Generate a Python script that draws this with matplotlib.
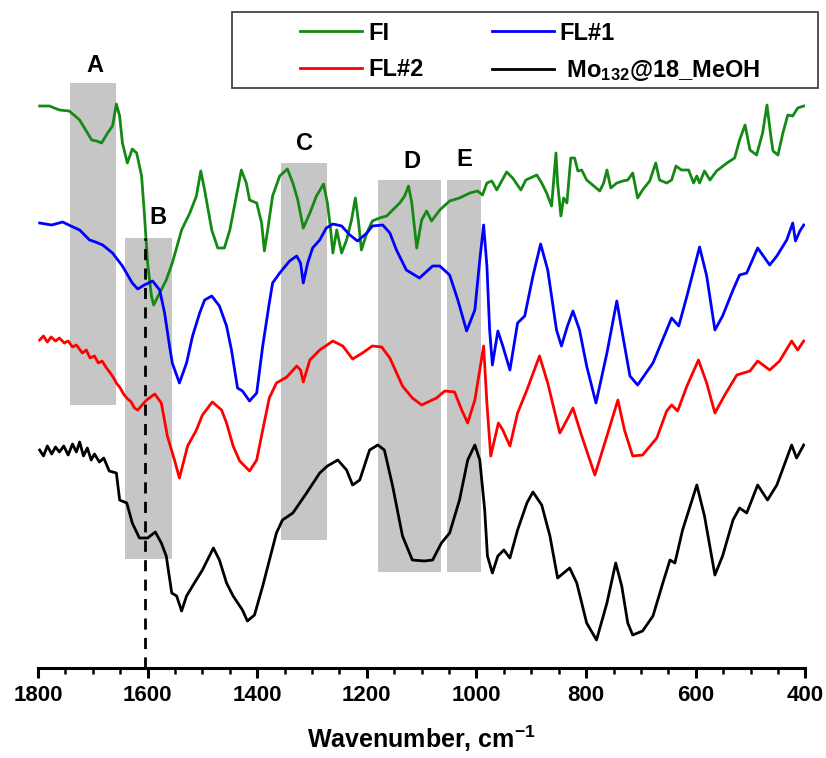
import matplotlib
matplotlib.use("Agg")
import matplotlib.pyplot as plt
from matplotlib.patches import Rectangle

plt.rcParams['font.family'] = ['Liberation Sans', 'DejaVu Sans']
plt.rcParams['font.weight'] = 'bold'
plt.rcParams['mathtext.fontset'] = 'custom'
plt.rcParams['mathtext.rm'] = 'Liberation Sans:bold'
plt.rcParams['mathtext.default'] = 'rm'

# spectra: wavenumber (cm-1) and offset transmittance (arb. units)
fi_w = [1797, 1779, 1761, 1743, 1724, 1702, 1693, 1684, 1673, 1664, 1657, 1651, 1646, 1637,
        1628, 1620, 1611, 1606, 1600, 1593, 1589, 1578, 1566, 1555, 1538, 1523, 1511, 1503,
        1496, 1483, 1472, 1460, 1450, 1438, 1429, 1420, 1414, 1401, 1392, 1387, 1381, 1372,
        1359, 1345, 1335, 1326, 1316, 1304, 1292, 1279, 1272, 1266, 1262, 1255, 1246, 1237,
        1228, 1221, 1215, 1210, 1200, 1190, 1177, 1164, 1153, 1140, 1131, 1124, 1118, 1109,
        1100, 1091, 1082, 1067, 1049, 1031, 1012, 998, 989, 981, 972, 963, 945, 934, 919, 910,
        890, 881, 872, 863, 855, 852, 846, 841, 835, 828, 821, 815, 808, 799, 788, 775, 768,
        762, 755, 744, 733, 724, 715, 706, 697, 684, 673, 666, 653, 644, 636, 626, 613, 604,
        598, 593, 584, 574, 562, 543, 529, 520, 510, 501, 489, 478, 470, 463, 459, 450, 441,
        432, 423, 414, 403]
fi_t = [562, 562, 558, 557, 548, 528, 527, 525, 535, 542, 564, 552, 525, 505,
        519, 515, 492, 455, 405, 372, 363, 375, 388, 405, 438, 455, 472, 497,
        478, 438, 420, 420, 438, 472, 498, 485, 468, 465, 445, 417, 438, 472,
        492, 499, 485, 468, 440, 455, 472, 484, 465, 438, 415, 438, 415, 428,
        448, 470, 445, 418, 435, 447, 450, 452, 458, 465, 472, 482, 465, 420,
        448, 457, 447, 458, 467, 470, 475, 477, 473, 485, 487, 478, 496, 490, 478, 488,
        493, 485, 475, 462, 515, 485, 452, 470, 465, 510, 510, 497, 498, 488, 483, 477, 485,
        498, 480, 485, 487, 488, 495, 470, 478, 487, 505, 488, 485, 488, 502, 498, 498, 485,
        492, 485, 497, 488, 497, 505, 510, 528, 543, 518, 513, 535, 563, 532, 517, 513, 535,
        553, 552, 560, 562]

fl1_w = [1797, 1775, 1755, 1740, 1724, 1706, 1695, 1682, 1664, 1646, 1628, 1618, 1606, 1591,
         1578, 1569, 1560,
         1555, 1542, 1529, 1518, 1505, 1496, 1483, 1469, 1456, 1447, 1436, 1427, 1414, 1401,
         1390, 1378, 1372, 1359, 1341, 1328, 1321, 1316, 1308, 1299, 1286, 1274, 1262, 1246,
         1231, 1217, 1200, 1190, 1171, 1158, 1146, 1128, 1104, 1080, 1067, 1049, 1034, 1018,
         1003, 994, 987, 981, 976, 971, 961, 952, 939, 925, 912, 897, 883, 870, 854, 845, 834,
         824, 812, 799, 782, 762, 744, 733, 720, 706, 678, 653, 644, 631, 616, 593, 580, 565,
         551, 532, 520, 507, 487, 465, 452, 434, 423, 418, 410, 403]
fl1_t = [445, 443, 446, 442, 438, 428, 426, 423, 415, 402, 385, 379, 383, 387,
         378, 355, 322,
         305, 285, 305, 332, 355, 368, 372, 362, 342, 318, 280, 277, 267, 275,
         322, 365, 385, 395, 407, 412, 405, 385, 405, 420, 428, 440, 444, 442,
         433, 427, 435, 442, 443, 435, 418, 398, 390, 402, 402, 393, 368, 337,
         358, 408, 443, 402, 338, 303, 337, 322, 298, 345, 352, 392, 424, 398, 338, 322, 342,
         357, 338, 302, 265, 315, 367, 332, 292, 283, 305, 338, 350, 342, 372, 421, 392, 338,
         352, 378, 393, 395, 420, 403, 412, 428, 445, 427, 437, 443]

fl2_w = [1797, 1790, 1783, 1776, 1768, 1761, 1752, 1745, 1737, 1730, 1719, 1712, 1705, 1697,
         1690, 1683, 1675, 1668, 1662, 1657, 1650, 1644, 1638, 1630, 1624, 1618, 1602, 1587,
         1575, 1564, 1551,
         1542, 1527, 1511, 1500, 1482, 1465, 1456, 1444, 1432, 1414, 1401, 1390, 1378, 1365,
         1346, 1328, 1321, 1316, 1304, 1286, 1262, 1244, 1226, 1208, 1190, 1173, 1158, 1135,
         1117, 1100, 1073, 1058, 1040, 1027, 1016, 1003, 994, 987, 981, 974, 960, 952, 939,
         925, 908, 885, 870, 848, 835, 824, 808, 784, 762, 742, 730, 715, 697, 671, 653, 644,
         633, 616, 595, 580, 565, 547, 525, 501, 487, 465, 447, 425, 414, 403]
fl2_t = [328, 332, 326, 331, 327, 330, 325, 327, 321, 323, 315, 318, 310, 312,
         305, 307, 300, 295, 290, 285, 280, 274, 270, 266, 260, 258, 268, 274,
         265, 232, 208,
         190, 222, 238, 253, 266, 258, 245, 222, 207, 197, 208, 238, 270, 285,
         291, 302, 298, 286, 308, 318, 327, 322, 309, 315, 322, 321, 310, 282,
         270, 263, 270, 277, 276, 258, 245, 268, 298, 322, 265, 212, 245, 238, 222,
         255, 278, 312, 285, 235, 248, 260, 232, 193, 232, 268, 238, 212, 213, 230, 257, 263,
         257, 282, 308, 285, 255, 273, 293, 297, 307, 298, 307, 327, 318, 327]

mo_w = [1797, 1790, 1783, 1775, 1768, 1761, 1753, 1745, 1737, 1730, 1724, 1717, 1710, 1703,
        1697, 1688, 1680, 1670, 1657, 1651, 1638, 1628, 1615, 1600, 1586, 1575, 1566, 1556,
        1547, 1538, 1529, 1518, 1500, 1480, 1469, 1456, 1444, 1427, 1418, 1405, 1390, 1365,
        1354, 1335, 1310, 1286, 1272, 1253, 1237, 1226, 1213, 1195, 1180, 1168, 1153, 1135,
        1117, 1095, 1080, 1064, 1049, 1031, 1016, 1003, 994, 985, 980, 971, 961, 950, 939,
        925, 908, 897, 881, 866, 852, 830, 817, 799, 781, 762, 746, 735, 724, 715, 697, 678,
        660, 647, 638, 624, 598, 584, 565, 551, 532, 520, 507, 487, 469, 452, 425, 416, 403]
mo_t = [218, 212, 222, 214, 221, 216, 222, 213, 224, 216, 226, 212, 220, 208,
        214, 206, 210, 197, 195, 168, 165, 145, 130, 130, 136, 125, 112, 75,
        72, 57, 72, 82, 98, 120, 108, 85, 72, 58, 47, 53, 82, 135,
        148, 155, 175, 195, 202, 208, 198, 183, 188, 218, 223, 218, 182, 132,
        108, 107, 108, 125, 135, 168, 208, 223, 208, 158, 112, 95, 112, 118, 110,
        138, 165, 176, 163, 132, 90, 100, 85, 45, 28, 65, 105, 82, 45, 33, 37, 52,
        85, 108, 105, 138, 183, 152, 93, 112, 148, 160, 155, 183, 168, 183, 223, 210, 223]

series_labels = ['FI', 'FL#1', 'FL#2', ' Mo$_{132}$@18_MeOH']
series_colors = ['#148a14', '#0000ff', '#ff0000', 'black']

# shaded band regions
band_names = ['A', 'B', 'C', 'D', 'E']
band_hi = [1742, 1642, 1357, 1179, 1053]
band_lo = [1657, 1556, 1272, 1064, 991]
band_bottom = [263, 109, 128, 96, 96]
band_top = [585, 430, 505, 488, 488]
label_w = [1697, 1582, 1314, 1118, 1022]
label_t = [602, 451, 525, 506, 508]

marker_w = 1605
marker_top = 430

fig = plt.figure(figsize=(8.26, 7.58), dpi=100)
ax = fig.add_axes([0.046, 1 - 668 / 758, 0.929, 655 / 758])

for i in range(len(band_names)):
    ax.add_patch(Rectangle((band_lo[i], band_bottom[i]), band_hi[i] - band_lo[i],
                           band_top[i] - band_bottom[i], facecolor='#c6c6c6',
                           edgecolor='none', zorder=1))
    ax.text(label_w[i], label_t[i], band_names[i], fontsize=17, fontweight='bold',
            ha='center', va='center', zorder=4)

ax.plot([marker_w, marker_w], [0, marker_top], color='black', lw=2, ls=(0, (4, 3)), zorder=3)

lines = []
for w, t, lab, col in zip([fi_w, fl1_w, fl2_w, mo_w], [fi_t, fl1_t, fl2_t, mo_t],
                          series_labels, series_colors):
    ln, = ax.plot(w, t, color=col, lw=2, label=lab, zorder=2)
    lines.append(ln)

ax.set_xlim(1800, 400)
ax.set_ylim(0, 655)
ax.set_xticks([1800, 1600, 1400, 1200, 1000, 800, 600, 400])
ax.set_xticks(range(400, 1801, 50), minor=True)
ax.set_yticks([])
for s in ['left', 'right', 'top']:
    ax.spines[s].set_visible(False)
ax.spines['bottom'].set_linewidth(2.2)
ax.tick_params(axis='x', which='major', direction='out', length=7, width=2.2, labelsize=16, pad=5)
ax.tick_params(axis='x', which='minor', direction='out', length=4, width=1.8)
for lab in ax.get_xticklabels():
    lab.set_fontweight('bold')
ax.set_xlabel('Wavenumber, cm$^{-1}$', fontsize=18, fontweight='bold', labelpad=13)

# legend frame drawn separately, legend itself placed inside it
fig.patches.append(Rectangle((232 / 826, 1 - 88 / 758), 586 / 826, 76 / 758,
                             transform=fig.transFigure, facecolor='white',
                             edgecolor='#444444', lw=1.3, zorder=5))
order = [0, 2, 1, 3]
leg = fig.legend([lines[k] for k in order], [series_labels[k] for k in order],
                 loc='upper left', bbox_to_anchor=(300 / 826, 1 - 21.5 / 758), ncol=2,
                 frameon=False, handlelength=2.63, handletextpad=0.25, columnspacing=2.9,
                 borderpad=0, borderaxespad=0, labelspacing=0.58,
                 prop={'weight': 'bold', 'size': 17})
leg.set_zorder(6)

fig.savefig('out.png', dpi=100)
